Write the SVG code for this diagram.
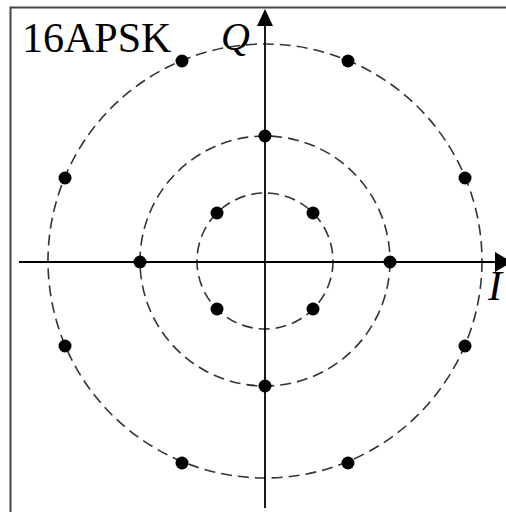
<svg xmlns="http://www.w3.org/2000/svg" width="506" height="512" viewBox="0 0 506 512">
<style>
.ring{fill:none;stroke:#333;stroke-width:1.6;stroke-dasharray:11 6}
.ax{stroke:#000;stroke-width:1.8}
.dot{fill:#000}
.lbl{font-family:"Liberation Serif",serif;fill:#000}
</style>
<rect width="506" height="512" fill="#fff"/>
<g id="frame"><path d="M10.5 512 V7.5 H506" fill="none" stroke="#444" stroke-width="2"/></g>
<g id="rings">
<circle class="ring" cx="265" cy="261" r="68"/>
<circle class="ring" cx="265" cy="261" r="125"/>
<circle class="ring" cx="265" cy="261" r="217"/>
</g>
<g id="connectors">
<line class="ax" x1="19" y1="262" x2="497" y2="262"/>
<polygon points="495,252 512,262 495,272" fill="#000"/>
<line class="ax" x1="265" y1="508" x2="265" y2="24"/>
<polygon points="257,26 265,9 273,26" fill="#000"/>
</g>
<g id="points">
<circle class="dot" cx="217" cy="213" r="6.5"/>
<circle class="dot" cx="313" cy="213" r="6.5"/>
<circle class="dot" cx="217" cy="309" r="6.5"/>
<circle class="dot" cx="313" cy="309" r="6.5"/>
<circle class="dot" cx="265" cy="136" r="6.5"/>
<circle class="dot" cx="140" cy="262" r="6.5"/>
<circle class="dot" cx="390" cy="262" r="6.5"/>
<circle class="dot" cx="265" cy="386" r="6.5"/>
<circle class="dot" cx="182" cy="61" r="6.5"/>
<circle class="dot" cx="348" cy="61" r="6.5"/>
<circle class="dot" cx="65" cy="178" r="6.5"/>
<circle class="dot" cx="465" cy="178" r="6.5"/>
<circle class="dot" cx="65" cy="346" r="6.5"/>
<circle class="dot" cx="465" cy="346" r="6.5"/>
<circle class="dot" cx="182" cy="463" r="6.5"/>
<circle class="dot" cx="348" cy="463" r="6.5"/>
</g>
<g id="labels">
<text class="lbl" x="22" y="52" font-size="42">16APSK</text>
<text class="lbl" x="221" y="50" font-size="40" font-style="italic">Q</text>
<text class="lbl" x="488" y="300" font-size="42" font-style="italic">I</text>
</g>
</svg>
